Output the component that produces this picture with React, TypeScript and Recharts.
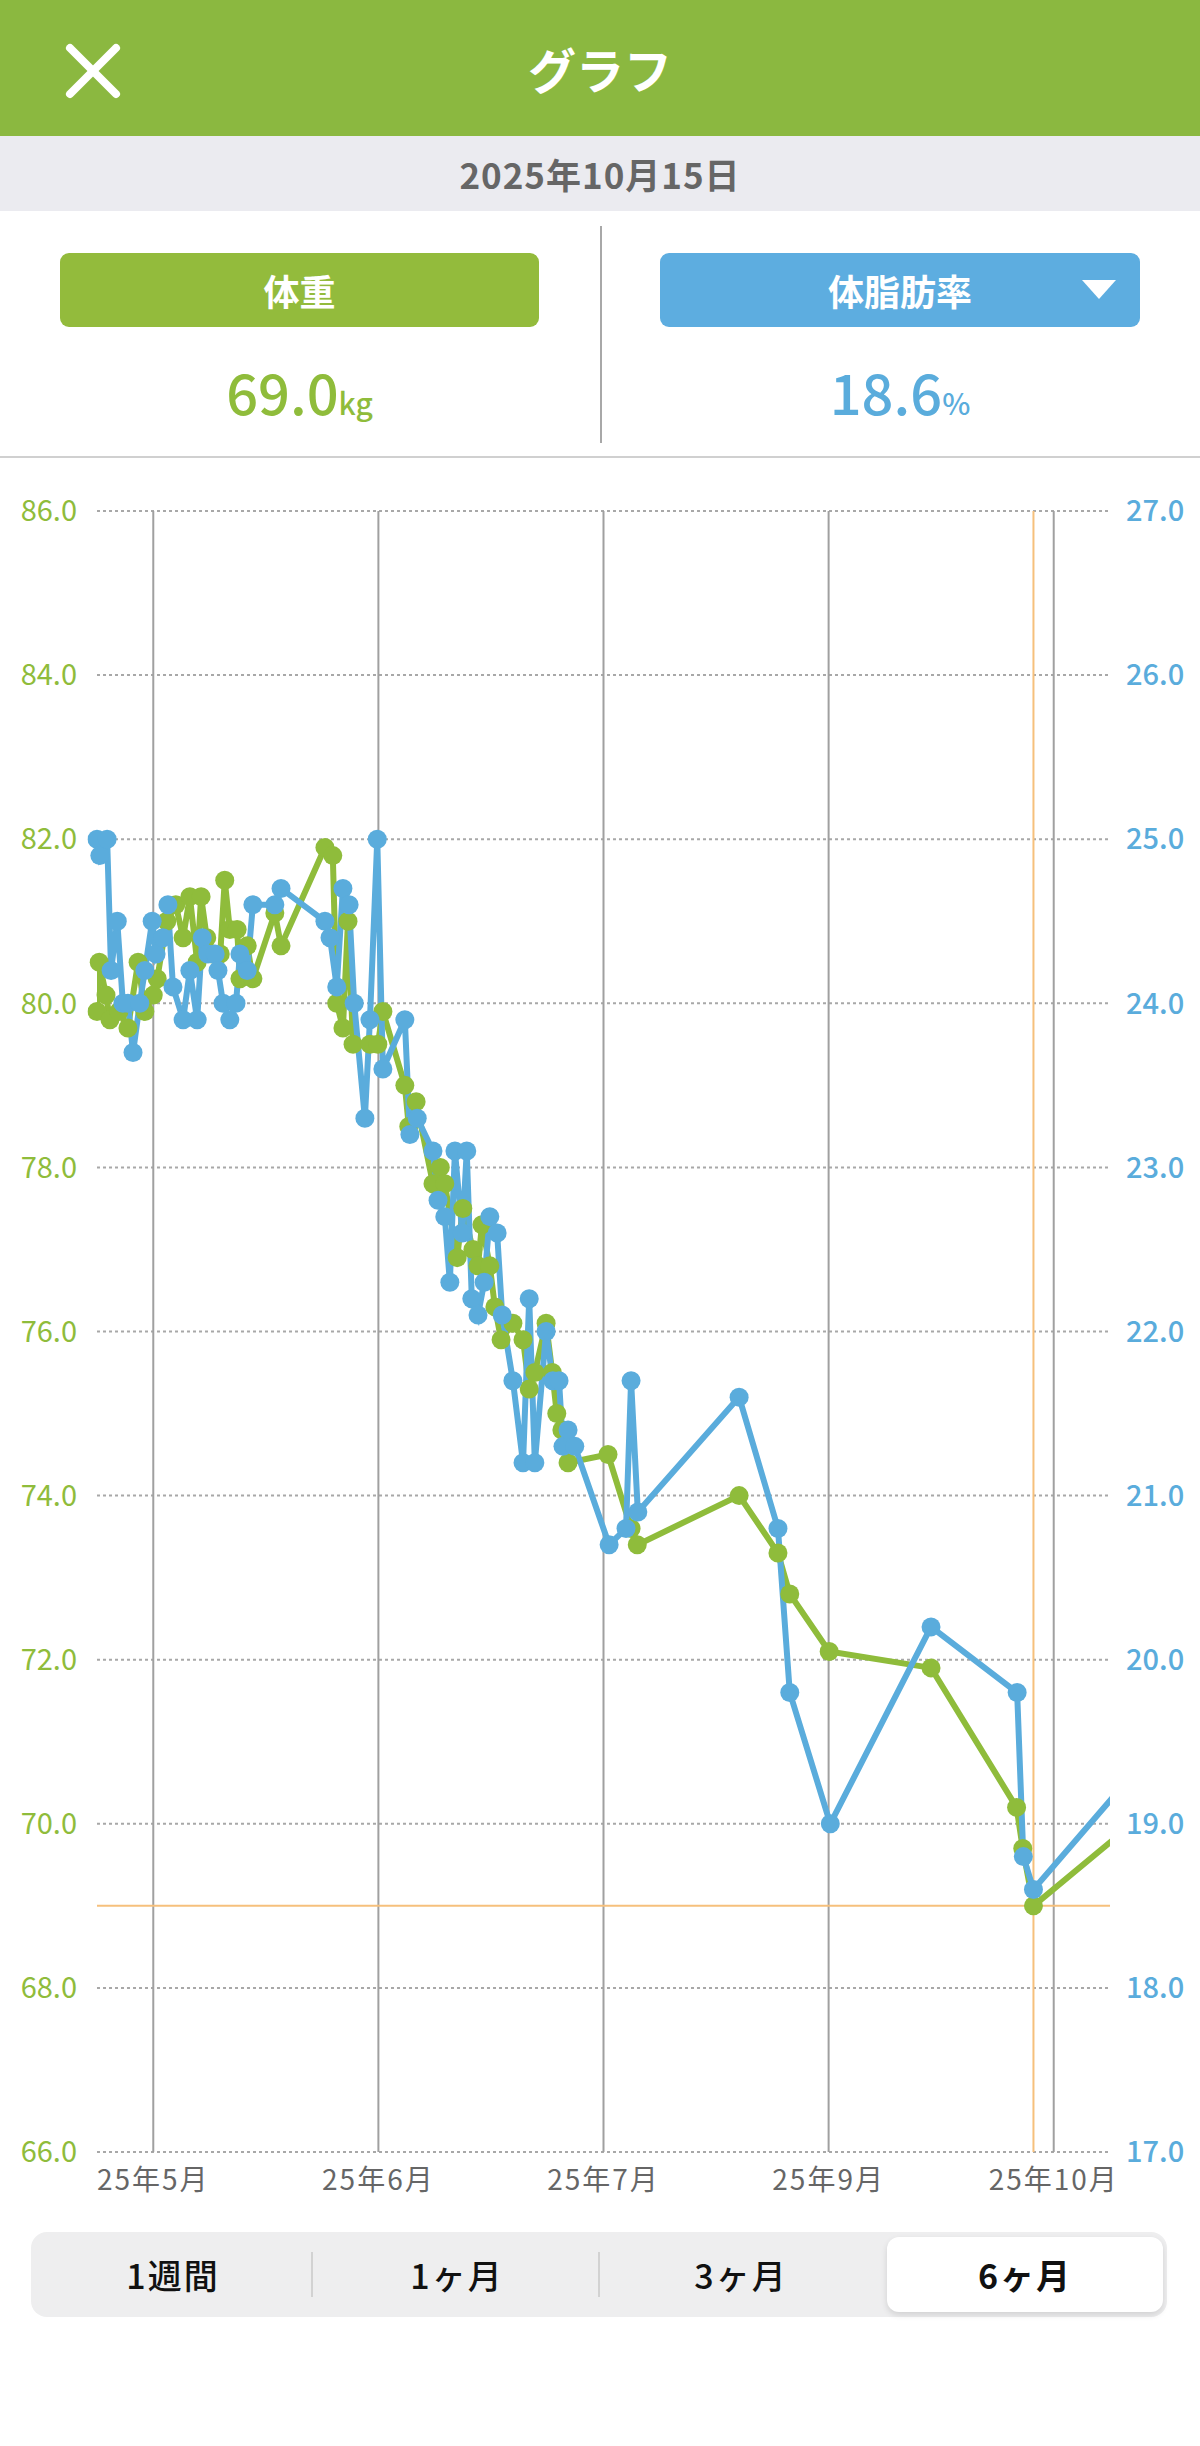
import React from 'react';
import { LineChart, Line, XAxis, YAxis, CartesianGrid, ReferenceLine } from 'recharts';

const GREEN = '#8fbc3b';
const BLUE = '#5aacdc';
const ORANGE = '#f6c07c';
const FONT = '"Noto Sans CJK JP", "Noto Sans", sans-serif';

// x values are days counted from the left edge of the 6-month window
const monthTicks = [10, 50, 90, 130, 170];
const monthLabels = ['25年5月', '25年6月', '25年7月', '25年9月', '25年10月'];
const weightTicks = [66, 68, 70, 72, 74, 76, 78, 80, 82, 84, 86];
const fatTicks = [17, 18, 19, 20, 21, 22, 23, 24, 25, 26, 27];

const weightDays = [
    0, 0.4, 1.6, 2.3, 3.9, 5.5, 7.3, 8.5, 10.0, 10.7,
    12.4, 14.0, 15.3, 16.5, 17.8, 18.5, 19.5, 20.6, 21.9, 22.7,
    23.6, 24.9, 25.4, 26.7, 27.7, 31.6, 32.7, 40.5, 41.9, 42.6,
    43.7, 44.6, 45.5, 48.5, 49.9, 50.8, 54.7, 55.4, 56.7, 59.7,
    61.0, 61.8, 64.0, 65.0, 66.8, 67.7, 68.4, 69.8, 70.7, 71.8,
    73.9, 75.7, 76.8, 77.8, 79.8, 80.9, 81.7, 82.6, 83.7, 90.8,
    94.9, 96.0, 114.1, 121.0, 123.1, 130.1, 148.2, 163.4, 164.5, 166.4,
    184,
];
const weightValues = [
    79.9, 80.5, 80.1, 79.8, 79.9, 79.7, 80.5, 79.9, 80.1, 80.3,
    81.0, 81.2, 80.8, 81.3, 80.5, 81.3, 80.8, 80.6, 80.6, 81.5,
    80.9, 80.9, 80.3, 80.7, 80.3, 81.1, 80.7, 81.9, 81.8, 80.0,
    79.7, 81.0, 79.5, 79.5, 79.5, 79.9, 79.0, 78.5, 78.8, 77.8,
    78.0, 77.8, 76.9, 77.5, 77.0, 76.8, 77.3, 76.8, 76.3, 75.9,
    76.1, 75.9, 75.3, 75.5, 76.1, 75.5, 75.0, 74.8, 74.4, 74.5,
    73.6, 73.4, 74.0, 73.3, 72.8, 72.1, 71.9, 70.2, 69.7, 69.0,
    70.0,
];

const fatDays = [
    0, 0.5, 1.8, 2.5, 3.6, 4.6, 5.5, 6.4, 7.6, 8.5,
    9.8, 10.5, 11.7, 12.6, 13.5, 15.3, 16.5, 17.8, 18.7, 19.7,
    21.0, 21.5, 22.4, 23.6, 24.7, 25.4, 26.7, 27.7, 31.6, 32.7,
    40.5, 41.4, 42.6, 43.7, 44.8, 45.7, 47.6, 48.5, 49.8, 50.8,
    54.7, 55.6, 56.9, 59.7, 60.6, 61.8, 62.7, 63.6, 64.9, 65.7,
    66.6, 67.7, 68.8, 69.8, 71.1, 72.0, 73.9, 75.7, 76.8, 77.8,
    79.8, 81.0, 82.1, 82.8, 83.7, 84.9, 91.0, 94.0, 94.9, 96.1,
    114.1, 121.0, 123.1, 130.3, 148.2, 163.5, 164.6, 166.4, 184,
];
const fatValues = [
    25.0, 24.9, 25.0, 24.2, 24.5, 24.0, 24.0, 23.7, 24.0, 24.2,
    24.5, 24.3, 24.4, 24.6, 24.1, 23.9, 24.2, 23.9, 24.4, 24.3,
    24.3, 24.2, 24.0, 23.9, 24.0, 24.3, 24.2, 24.6, 24.6, 24.7,
    24.5, 24.4, 24.1, 24.7, 24.6, 24.0, 23.3, 23.9, 25.0, 23.6,
    23.9, 23.2, 23.3, 23.1, 22.8, 22.7, 22.3, 23.1, 22.6, 23.1,
    22.2, 22.1, 22.3, 22.7, 22.6, 22.1, 21.7, 21.2, 22.2, 21.2,
    22.0, 21.7, 21.7, 21.3, 21.4, 21.3, 20.7, 20.8, 21.7, 20.9,
    21.6, 20.8, 19.8, 19.0, 20.2, 19.8, 18.8, 18.6, 19.3,
];

const selectedDay = 166.4;
const selectedDate = '2025年10月15日';
const tabs = ['1週間', '1ヶ月', '3ヶ月', '6ヶ月'];
const activeTab = 3;

const weightData = weightDays.map((day, i) => ({ day, value: weightValues[i] }));
const fatData = fatDays.map((day, i) => ({ day, value: fatValues[i] }));
const selectedWeight = weightValues[weightDays.indexOf(selectedDay)];
const selectedFat = fatValues[fatDays.indexOf(selectedDay)];

function CloseIcon() {
    return (
        <svg width={58} height={56} viewBox='0 0 58 56' style={{ position: 'absolute', left: 64, top: 43 }}>
            <line x1={6} y1={5} x2={52} y2={51} stroke='#fff' strokeWidth={8} strokeLinecap='round' />
            <line x1={52} y1={5} x2={6} y2={51} stroke='#fff' strokeWidth={8} strokeLinecap='round' />
        </svg>
    );
}

function App() {
    return (
        <div style={{ position: 'relative', width: 1200, height: 2446, background: '#fff', fontFamily: FONT, overflow: 'hidden' }}>
            <style>{'body{margin:0}'}</style>

            {/* header */}
            <div style={{ position: 'absolute', left: 0, top: 0, width: 1200, height: 136, background: '#8bb840' }}>
                <CloseIcon />
                <div style={{ position: 'absolute', left: 0, top: 0, width: 1200, height: 136, display: 'flex', alignItems: 'center', justifyContent: 'center', color: '#fff', fontSize: 48, fontWeight: 700 }}>
                    グラフ
                </div>
            </div>

            {/* date bar */}
            <div style={{ position: 'absolute', left: 0, top: 136, width: 1200, height: 75, background: '#ebebf0', display: 'flex', alignItems: 'center', justifyContent: 'center', color: '#666', fontSize: 35, fontWeight: 700, letterSpacing: 1 }}>
                {selectedDate}
            </div>

            {/* value cards */}
            <div style={{ position: 'absolute', left: 60, top: 253, width: 479, height: 74, background: '#93bb3c', borderRadius: 9, display: 'flex', alignItems: 'center', justifyContent: 'center', color: '#fff', fontSize: 36, fontWeight: 700 }}>
                体重
            </div>
            <div style={{ position: 'absolute', left: 660, top: 253, width: 480, height: 74, background: '#5dade0', borderRadius: 9, display: 'flex', alignItems: 'center', justifyContent: 'center', color: '#fff', fontSize: 36, fontWeight: 700 }}>
                体脂肪率
                <svg width={34} height={20} style={{ position: 'absolute', left: 422, top: 27 }}>
                    <polygon points='0,0 34,0 17,19' fill='#fff' />
                </svg>
            </div>
            <div style={{ position: 'absolute', left: 60, top: 350, width: 479, height: 66, display: 'flex', alignItems: 'baseline', justifyContent: 'center', color: GREEN, fontWeight: 500 }}>
                <span style={{ fontSize: 56 }}>{selectedWeight.toFixed(1)}</span>
                <span style={{ fontSize: 30 }}>kg</span>
            </div>
            <div style={{ position: 'absolute', left: 660, top: 350, width: 480, height: 66, display: 'flex', alignItems: 'baseline', justifyContent: 'center', color: BLUE, fontWeight: 500 }}>
                <span style={{ fontSize: 56 }}>{selectedFat.toFixed(1)}</span>
                <span style={{ fontSize: 30 }}>%</span>
            </div>
            <div style={{ position: 'absolute', left: 600, top: 226, width: 2, height: 217, background: '#a8a8a8' }} />
            <div style={{ position: 'absolute', left: 0, top: 456, width: 1200, height: 2, background: '#d0d0d0' }} />

            {/* chart */}
            <div style={{ position: 'absolute', left: 0, top: 460 }}>
                <LineChart width={1200} height={1752} margin={{ top: 51, right: 0, bottom: 0, left: 0 }}>
                    <CartesianGrid yAxisId='w' vertical={false} stroke='#a8a8a8' strokeWidth={2} strokeDasharray='3 3' />
                    <XAxis
                        dataKey='day'
                        type='number'
                        domain={[0, 180]}
                        allowDataOverflow
                        ticks={monthTicks}
                        tickFormatter={(v) => monthLabels[monthTicks.indexOf(v)]}
                        axisLine={false}
                        tickLine={false}
                        tickSize={0}
                        tickMargin={18}
                        height={60}
                        interval={0}
                        tick={{ fill: '#666', fontSize: 28, fontFamily: FONT, letterSpacing: 2 }}
                    />
                    <YAxis
                        yAxisId='w'
                        orientation='left'
                        domain={[66, 86]}
                        ticks={weightTicks}
                        interval={0}
                        width={97}
                        axisLine={false}
                        tickLine={false}
                        tickSize={0}
                        tickMargin={20}
                        tickFormatter={(v) => v.toFixed(1)}
                        tick={{ fill: GREEN, fontSize: 29, fontFamily: FONT }}
                    />
                    <YAxis
                        yAxisId='f'
                        orientation='right'
                        domain={[17, 27]}
                        ticks={fatTicks}
                        interval={0}
                        width={90}
                        axisLine={false}
                        tickLine={false}
                        tickSize={0}
                        tickMargin={16}
                        tickFormatter={(v) => v.toFixed(1)}
                        tick={{ fill: BLUE, fontSize: 29, fontWeight: 500, fontFamily: FONT }}
                    />
                    {monthTicks.map((t) => (
                        <ReferenceLine key={t} yAxisId='w' x={t} stroke='#a0a0a0' strokeWidth={2} />
                    ))}
                    <ReferenceLine yAxisId='w' x={selectedDay} stroke={ORANGE} strokeWidth={2} />
                    <ReferenceLine yAxisId='w' y={selectedWeight} stroke={ORANGE} strokeWidth={2} />
                    <Line
                        yAxisId='w'
                        data={weightData}
                        dataKey='value'
                        type='linear'
                        stroke={GREEN}
                        strokeWidth={6}
                        dot={{ r: 9.5, fill: GREEN, stroke: GREEN, strokeWidth: 0, clipDot: false }}
                        activeDot={false}
                        isAnimationActive={false}
                    />
                    <Line
                        yAxisId='f'
                        data={fatData}
                        dataKey='value'
                        type='linear'
                        stroke={BLUE}
                        strokeWidth={6}
                        dot={{ r: 9.5, fill: BLUE, stroke: BLUE, strokeWidth: 0, clipDot: false }}
                        activeDot={false}
                        isAnimationActive={false}
                    />
                </LineChart>
            </div>

            {/* period tabs */}
            <div style={{ position: 'absolute', left: 31, top: 2232, width: 1136, height: 85, background: '#eeeeef', borderRadius: 16 }}>
                {tabs.map((t, i) => (
                    <div
                        key={t}
                        style={{
                            position: 'absolute',
                            left: i * 284 + (i === activeTab ? 4 : 0),
                            top: i === activeTab ? 5 : 0,
                            width: i === activeTab ? 276 : 284,
                            height: i === activeTab ? 75 : 85,
                            background: i === activeTab ? '#fff' : 'transparent',
                            borderRadius: 12,
                            boxShadow: i === activeTab ? '0 3px 6px rgba(0,0,0,0.12)' : 'none',
                            display: 'flex',
                            alignItems: 'center',
                            justifyContent: 'center',
                            fontSize: 34,
                            color: '#111',
                            fontWeight: i === activeTab ? 700 : 500,
                            letterSpacing: 2,
                        }}
                    >
                        {t}
                    </div>
                ))}
                <div style={{ position: 'absolute', left: 280, top: 20, width: 2, height: 45, background: '#d2d2d2' }} />
                <div style={{ position: 'absolute', left: 567, top: 20, width: 2, height: 45, background: '#d2d2d2' }} />
            </div>
        </div>
    );
}

export default App;
